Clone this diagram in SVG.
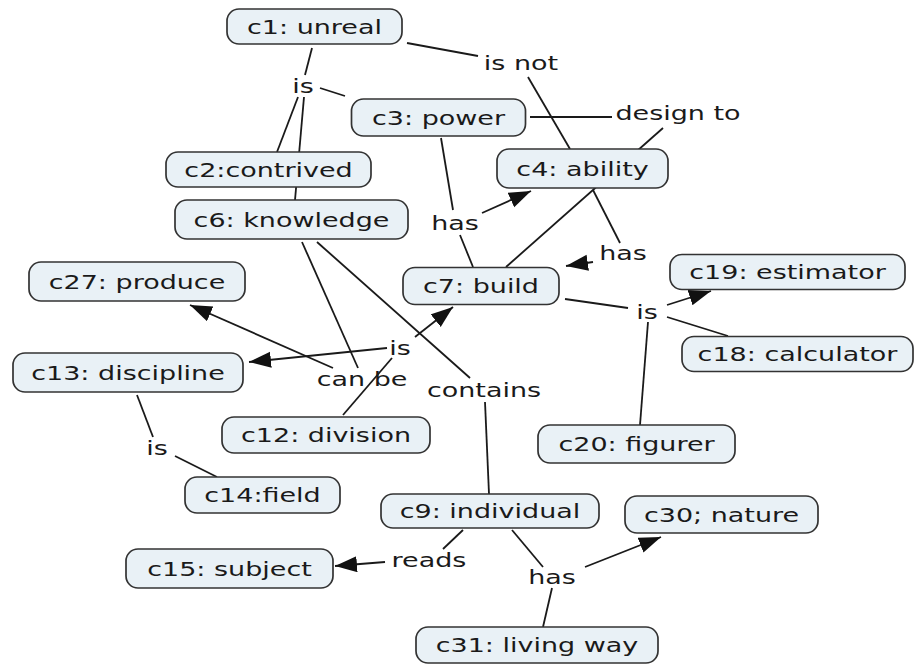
<svg xmlns="http://www.w3.org/2000/svg" width="914" height="664" viewBox="0 0 914 664">
  <style>
    .node rect { fill: #e9f1f6; stroke: #333; stroke-width: 1.7; }
    .t { font-family: "DejaVu Sans", Verdana, sans-serif; font-size: 19px; fill: #1a1a1a; text-anchor: middle; transform: scaleX(1.42); }
    #links line { stroke: #1a1a1a; stroke-width: 1.8; fill: none; }
    #links line.arrow { marker-end: url(#head); }
  </style>
  <defs>
    <marker id="head" markerUnits="userSpaceOnUse" markerWidth="24" markerHeight="18" refX="22" refY="8" orient="auto">
      <path d="M0,0 L22,8 L0,16 z" fill="#111"/>
    </marker>
  </defs>
  <rect width="914" height="664" fill="#fff"/>

  <!-- connectors (drawn first, boxes sit on top) -->
  <g id="links">
    <line x1="312" y1="48" x2="305" y2="75"/>
    <line x1="320" y1="88" x2="345" y2="96"/>
    <line x1="298" y1="97" x2="277" y2="152"/>
    <line x1="304" y1="97" x2="295" y2="200"/>
    <line x1="407" y1="43" x2="478" y2="56"/>
    <line x1="528" y1="77" x2="570" y2="149"/>
    <line x1="530" y1="117" x2="612" y2="117"/>
    <line x1="663" y1="128" x2="506" y2="267"/>
    <line x1="441" y1="138" x2="453" y2="210"/>
    <line class="arrow" x1="482" y1="213" x2="531" y2="191"/>
    <line x1="460" y1="235" x2="473" y2="267"/>
    <line x1="593" y1="190" x2="620" y2="243"/>
    <line class="arrow" x1="593" y1="262" x2="566" y2="266"/>
    <line x1="302" y1="242" x2="358" y2="368"/>
    <line x1="317" y1="242" x2="470" y2="378"/>
    <line x1="485" y1="402" x2="489" y2="494"/>
    <line class="arrow" x1="333" y1="368" x2="190" y2="305"/>
    <line x1="343" y1="415" x2="392" y2="358"/>
    <line class="arrow" x1="387" y1="348" x2="249" y2="362"/>
    <line class="arrow" x1="415" y1="337" x2="453" y2="307"/>
    <line x1="137" y1="395" x2="153" y2="437"/>
    <line x1="175" y1="456" x2="217" y2="477"/>
    <line x1="565" y1="299" x2="628" y2="308"/>
    <line class="arrow" x1="667" y1="305" x2="711" y2="291"/>
    <line x1="667" y1="317" x2="728" y2="336"/>
    <line x1="640" y1="425" x2="648" y2="322"/>
    <line x1="463" y1="530" x2="443" y2="549"/>
    <line class="arrow" x1="385" y1="562" x2="335" y2="566"/>
    <line x1="512" y1="530" x2="543" y2="567"/>
    <line class="arrow" x1="585" y1="567" x2="661" y2="537"/>
    <line x1="543" y1="627" x2="552" y2="588"/>
  </g>

  <!-- linking phrases -->
  <g id="lp-is-1" transform="translate(303,86)"><text class="t" y="7">is</text></g>
  <g id="lp-isnot" transform="translate(521,63)"><text class="t" y="7">is not</text></g>
  <g id="lp-design" transform="translate(678,113)"><text class="t" y="7">design to</text></g>
  <g id="lp-has-1" transform="translate(455,223)"><text class="t" y="7">has</text></g>
  <g id="lp-has-2" transform="translate(623,253)"><text class="t" y="7">has</text></g>
  <g id="lp-is-2" transform="translate(647,312)"><text class="t" y="7">is</text></g>
  <g id="lp-is-3" transform="translate(400,348)"><text class="t" y="7">is</text></g>
  <g id="lp-canbe" transform="translate(362,379)"><text class="t" y="7">can be</text></g>
  <g id="lp-contains" transform="translate(484,390)"><text class="t" y="7">contains</text></g>
  <g id="lp-is-4" transform="translate(157,448)"><text class="t" y="7">is</text></g>
  <g id="lp-reads" transform="translate(429,560)"><text class="t" y="7">reads</text></g>
  <g id="lp-has-3" transform="translate(552,577)"><text class="t" y="7">has</text></g>

  <!-- concepts -->
  <g id="c1" class="node" transform="translate(314.5,26.5)"><rect x="-87.5" y="-17.5" width="175" height="35" rx="12"/><text class="t" y="7">c1: unreal</text></g>
  <g id="c3" class="node" transform="translate(438.5,117.5)"><rect x="-87" y="-18.5" width="174" height="37" rx="12"/><text class="t" y="7">c3: power</text></g>
  <g id="c2" class="node" transform="translate(268.5,169.5)"><rect x="-102.5" y="-17.5" width="205" height="35" rx="12"/><text class="t" y="7">c2:contrived</text></g>
  <g id="c4" class="node" transform="translate(582.5,168.5)"><rect x="-85.5" y="-19.5" width="171" height="39" rx="12"/><text class="t" y="7">c4: ability</text></g>
  <g id="c6" class="node" transform="translate(291.5,219.5)"><rect x="-116.5" y="-19.5" width="233" height="39" rx="12"/><text class="t" y="7">c6: knowledge</text></g>
  <g id="c27" class="node" transform="translate(137,281.5)"><rect x="-108" y="-19.5" width="216" height="39" rx="12"/><text class="t" y="7">c27: produce</text></g>
  <g id="c7" class="node" transform="translate(481,286)"><rect x="-78" y="-18.5" width="156" height="37" rx="12"/><text class="t" y="7">c7: build</text></g>
  <g id="c19" class="node" transform="translate(787.5,272)"><rect x="-117.5" y="-17.5" width="235" height="35" rx="12"/><text class="t" y="7">c19: estimator</text></g>
  <g id="c18" class="node" transform="translate(797.5,354)"><rect x="-115.5" y="-17.5" width="231" height="35" rx="12"/><text class="t" y="7">c18: calculator</text></g>
  <g id="c13" class="node" transform="translate(128,372.5)"><rect x="-115" y="-19.5" width="230" height="39" rx="12"/><text class="t" y="7">c13: discipline</text></g>
  <g id="c12" class="node" transform="translate(326,435)"><rect x="-104" y="-18" width="208" height="36" rx="12"/><text class="t" y="7">c12: division</text></g>
  <g id="c20" class="node" transform="translate(636.5,444)"><rect x="-98.5" y="-19" width="197" height="38" rx="12"/><text class="t" y="7">c20: figurer</text></g>
  <g id="c14" class="node" transform="translate(262.5,495)"><rect x="-77.5" y="-18" width="155" height="36" rx="12"/><text class="t" y="7">c14:field</text></g>
  <g id="c9" class="node" transform="translate(490,511)"><rect x="-109" y="-17" width="218" height="34" rx="12"/><text class="t" y="7">c9: individual</text></g>
  <g id="c30" class="node" transform="translate(721.5,514.5)"><rect x="-96.5" y="-18.5" width="193" height="37" rx="12"/><text class="t" y="7">c30; nature</text></g>
  <g id="c15" class="node" transform="translate(229.5,568.5)"><rect x="-103.5" y="-19.5" width="207" height="39" rx="12"/><text class="t" y="7">c15: subject</text></g>
  <g id="c31" class="node" transform="translate(537,645)"><rect x="-121" y="-18" width="242" height="36" rx="12"/><text class="t" y="7">c31: living way</text></g>
</svg>
